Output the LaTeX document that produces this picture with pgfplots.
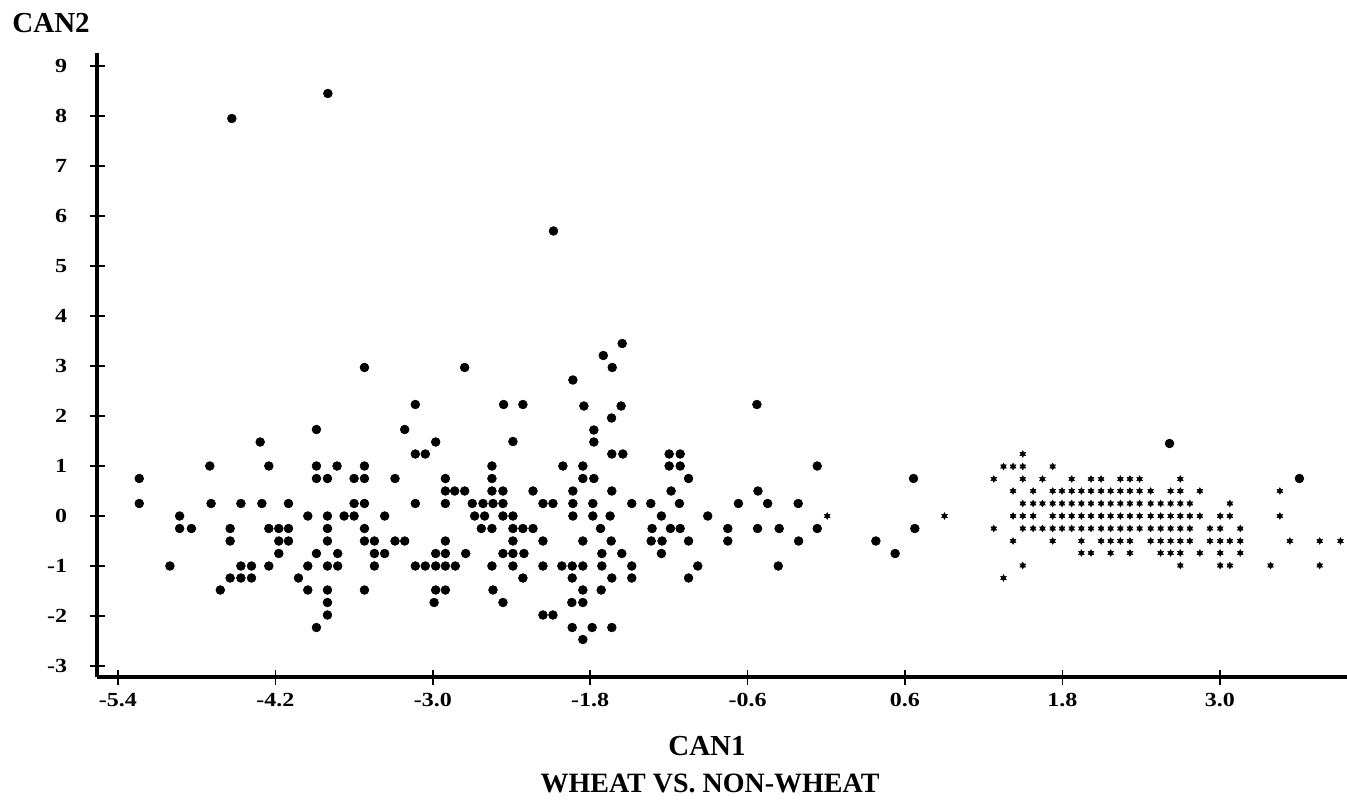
\documentclass[border=0pt]{standalone}
\usepackage{pgfplots}
\pgfplotsset{compat=1.18}
\usepackage{fontspec}
\setmainfont{Liberation Serif}
\newfontfamily\tickfont[FakeStretch=1.2]{Liberation Serif}

% filled six-pointed star used for the non-wheat points
\pgfdeclareplotmark{sixstar}{%
  \pgfpathmoveto{\pgfpointpolar{90}{\pgfplotmarksize}}%
  \pgfpathlineto{\pgfpointpolar{120}{0.55\pgfplotmarksize}}%
  \pgfpathlineto{\pgfpointpolar{150}{\pgfplotmarksize}}%
  \pgfpathlineto{\pgfpointpolar{180}{0.55\pgfplotmarksize}}%
  \pgfpathlineto{\pgfpointpolar{210}{\pgfplotmarksize}}%
  \pgfpathlineto{\pgfpointpolar{240}{0.55\pgfplotmarksize}}%
  \pgfpathlineto{\pgfpointpolar{270}{\pgfplotmarksize}}%
  \pgfpathlineto{\pgfpointpolar{300}{0.55\pgfplotmarksize}}%
  \pgfpathlineto{\pgfpointpolar{330}{\pgfplotmarksize}}%
  \pgfpathlineto{\pgfpointpolar{0}{0.55\pgfplotmarksize}}%
  \pgfpathlineto{\pgfpointpolar{30}{\pgfplotmarksize}}%
  \pgfpathlineto{\pgfpointpolar{60}{0.55\pgfplotmarksize}}%
  \pgfpathclose
  \pgfusepathqfillstroke
}

\newcommand{\labfont}{\fontsize{14.5}{16}\selectfont\bfseries}
\newcommand{\titfont}{\fontsize{14}{16}\selectfont\bfseries}

\begin{document}
\begin{tikzpicture}
\begin{axis}[
    scale only axis,
    width=625pt, height=312pt,
    xmin=-5.56, xmax=3.97,
    ymin=-3.22, ymax=9.26,
    axis x line=bottom, axis y line=left,
    axis line style={line width=2pt, -},
    xtick={-5.4,-4.2,-3.0,-1.8,-0.6,0.6,1.8,3.0},
    xticklabels={-5.4,-4.2,-3.0,-1.8,-0.6,0.6,1.8,3.0},
    ytick={-3,-2,-1,0,1,2,3,4,5,6,7,8,9},
    yticklabels={-3,-2,-1,0,1,2,3,4,5,6,7,8,9},
    tick align=center,
    major tick length=7.5pt,
    tick style={line width=0.8pt, black},
    tick label style={font=\tickfont\bfseries\fontsize{10}{11}\selectfont},
    xticklabel style={anchor=north, inner sep=0pt, yshift=-4pt},
    yticklabel style={anchor=east, inner sep=0pt, xshift=-11pt},
    clip=false,
]
% wheat
\addplot[only marks, mark=*, mark size=2.2pt, mark options={fill=black, draw=black, line width=0.3pt}] coordinates {
(-4.532,7.95) (-3.80,8.45) (-2.08,5.70)
(-5.238,0.75) (-5.238,0.25) (-5.004,-1) (-4.93,0) (-4.93,-0.25) (-4.84,-0.25)
(-4.70,1) (-4.69,0.25) (-4.62,-1.48) (-4.545,-0.25) (-4.545,-0.5) (-4.545,-1.24)
(-4.463,0.25) (-4.463,-1) (-4.463,-1.24) (-4.382,-1) (-4.382,-1.24) (-4.316,1.48)
(-4.303,0.25) (-4.25,1) (-4.25,-0.25) (-4.25,-1) (-4.174,-0.25) (-4.174,-0.5)
(-4.174,-0.75) (-4.10,0.25) (-4.10,-0.25) (-4.10,-0.5) (-4.024,-1.24)
(-3.953,0) (-3.953,-1) (-3.953,-1.48)
(-3.887,1.73) (-3.887,1) (-3.887,0.75) (-3.887,-0.75) (-3.887,-2.23)
(-3.803,0.75) (-3.803,0) (-3.803,-0.25) (-3.803,-0.5) (-3.803,-1) (-3.803,-1.48) (-3.803,-1.73) (-3.803,-1.98)
(-3.73,1) (-3.725,-0.75) (-3.725,-1) (-3.676,0) (-3.60,0.75) (-3.60,0.25) (-3.60,0)
(-3.521,2.97) (-3.521,1) (-3.521,0.75) (-3.521,0.25) (-3.521,-0.25) (-3.521,-0.5) (-3.521,-1.48)
(-3.445,-0.5) (-3.445,-0.75) (-3.445,-1) (-3.367,0) (-3.367,-0.75) (-3.288,0.75) (-3.288,-0.5)
(-3.214,1.73) (-3.214,-0.5) (-3.133,2.23) (-3.133,1.24) (-3.057,1.24) (-2.978,1.48)
(-3.133,0.25) (-3.133,-1) (-3.057,-1) (-2.978,-1) (-2.904,-1)
(-2.904,0.75) (-2.904,0.5) (-2.904,0.25) (-2.904,-0.5) (-2.978,-0.75) (-2.904,-0.75)
(-2.978,-1.48) (-2.904,-1.48) (-2.99,-1.73)
(-1.556,3.45) (-1.70,3.21) (-1.632,2.97) (-2.757,2.97) (-1.932,2.72)
(-2.46,2.23) (-2.313,2.23) (-1.848,2.2) (-1.564,2.2) (-1.637,1.96)
(-2.389,1.49) (-1.772,1.72) (-1.772,1.48)
(-1.635,1.24) (-1.551,1.24) (-1.198,1.24) (-1.114,1.24) (-1.198,1) (-1.114,1) (-1.05,0.75)
(-2.008,1) (-1.856,1) (-2.549,1)
(-2.549,0.75) (-1.856,0.75) (-1.772,0.75)
(-2.833,0.5) (-2.757,0.5) (-2.549,0.5) (-2.465,0.5) (-2.236,0.5) (-1.932,0.5) (-1.635,0.5) (-1.183,0.5)
(-2.699,0.25) (-2.617,0.25) (-2.541,0.25) (-2.465,0.25) (-2.16,0.25) (-2.084,0.25) (-1.932,0.25) (-1.78,0.25) (-1.483,0.25) (-1.338,0.25) (-1.12,0.25) (-0.67,0.25)
(-2.681,0) (-2.605,0) (-2.465,0) (-2.389,0) (-1.932,0) (-1.78,0) (-1.648,0) (-1.257,0) (-0.904,0)
(-2.63,-0.25) (-2.549,-0.25) (-2.389,-0.25) (-2.313,-0.25) (-2.236,-0.25) (-1.721,-0.25) (-1.328,-0.25) (-1.188,-0.25) (-1.114,-0.25) (-0.751,-0.25)
(-2.389,-0.5) (-2.16,-0.5) (-1.856,-0.5) (-1.64,-0.5) (-1.335,-0.5) (-1.252,-0.5) (-1.05,-0.5) (-0.751,-0.5)
(-2.749,-0.75) (-2.465,-0.75) (-2.389,-0.75) (-2.305,-0.75) (-1.711,-0.75) (-1.559,-0.75) (-1.257,-0.75)
(-2.828,-1) (-2.549,-1) (-2.389,-1) (-2.16,-1) (-2.016,-1) (-1.937,-1) (-1.856,-1) (-1.711,-1) (-1.483,-1) (-0.98,-1)
(-2.313,-1.24) (-1.937,-1.24) (-1.635,-1.24) (-1.483,-1.24) (-1.05,-1.24)
(-2.541,-1.48) (-1.856,-1.48) (-1.716,-1.48)
(-2.465,-1.73) (-1.94,-1.73) (-1.856,-1.73)
(-2.16,-1.98) (-2.084,-1.98)
(-1.937,-2.23) (-1.785,-2.23) (-1.635,-2.23)
(-1.856,-2.47)
(-0.529,2.23) (-0.521,0.5) (-0.447,0.25) (-0.524,-0.25) (-0.359,-0.25) (-0.366,-1)
(-0.214,0.25) (-0.211,-0.5) (-0.069,1) (-0.069,-0.25)
(0.378,-0.5) (0.525,-0.75) (0.665,0.75) (0.675,-0.25)
(2.617,1.45) (3.607,0.75)
};
% non-wheat
\addplot[only marks, mark=sixstar, mark size=1.7pt, mark options={fill=black, draw=black, line width=0.2pt}] coordinates {
(0.007,0) (0.901,0)
(1.498,1.24)
(1.351,0.99) (1.424,0.99) (1.498,0.99) (1.726,0.99)
(1.277,0.74) (1.498,0.74) (1.648,0.74) (1.871,0.74) (2.018,0.74) (2.095,0.74) (2.242,0.74) (2.315,0.74) (2.389,0.74) (2.699,0.74)
(1.424,0.5) (1.577,0.5) (1.726,0.5) (1.797,0.5) (1.871,0.5) (1.945,0.5) (2.018,0.5) (2.095,0.5) (2.168,0.5) (2.242,0.5) (2.315,0.5) (2.389,0.5) (2.473,0.5) (2.625,0.5) (2.699,0.5) (2.848,0.5) (3.458,0.5)
(1.498,0.25) (1.577,0.25) (1.648,0.25) (1.726,0.25) (1.797,0.25) (1.871,0.25) (1.945,0.25) (2.018,0.25) (2.095,0.25) (2.168,0.25) (2.242,0.25) (2.315,0.25) (2.389,0.25) (2.473,0.25) (2.549,0.25) (2.625,0.25) (2.699,0.25) (2.772,0.25) (3.077,0.25)
(1.424,0) (1.498,0) (1.577,0) (1.726,0) (1.797,0) (1.871,0) (1.945,0) (2.018,0) (2.095,0) (2.168,0) (2.242,0) (2.315,0) (2.389,0) (2.473,0) (2.549,0) (2.625,0) (2.699,0) (2.772,0) (2.848,0) (3.003,0) (3.077,0) (3.458,0)
(1.277,-0.25) (1.498,-0.25) (1.577,-0.25) (1.648,-0.25) (1.726,-0.25) (1.797,-0.25) (1.871,-0.25) (1.945,-0.25) (2.018,-0.25) (2.095,-0.25) (2.168,-0.25) (2.242,-0.25) (2.315,-0.25) (2.389,-0.25) (2.473,-0.25) (2.549,-0.25) (2.625,-0.25) (2.699,-0.25) (2.772,-0.25) (2.925,-0.25) (3.003,-0.25) (3.156,-0.25)
(1.424,-0.5) (1.726,-0.5) (1.945,-0.5) (2.095,-0.5) (2.168,-0.5) (2.242,-0.5) (2.315,-0.5) (2.473,-0.5) (2.549,-0.5) (2.625,-0.5) (2.699,-0.5) (2.772,-0.5) (2.925,-0.5) (3.003,-0.5) (3.077,-0.5) (3.156,-0.5) (3.534,-0.5) (3.762,-0.5) (3.92,-0.5)
(1.945,-0.74) (2.018,-0.74) (2.168,-0.74) (2.315,-0.74) (2.549,-0.74) (2.625,-0.74) (2.699,-0.74) (2.848,-0.74) (3.003,-0.74) (3.156,-0.74)
(1.498,-0.99) (2.699,-0.99) (3.003,-0.99) (3.077,-0.99) (3.387,-0.99) (3.762,-0.99)
(1.351,-1.24)
};
\coordinate (bl) at (rel axis cs:0,0);
\coordinate (tr) at (rel axis cs:1,1);
\node[anchor=base west, inner sep=0pt, font=\labfont] at ([shift={(-42.5pt,10pt)}]rel axis cs:0,1) {CAN2};
\node[anchor=base, inner sep=0pt, font=\labfont] at ([shift={(305pt,-39pt)}]rel axis cs:0,0) {CAN1};
\node[anchor=base, inner sep=0pt, font=\titfont] at ([shift={(306.5pt,-57.5pt)}]rel axis cs:0,0) {WHEAT VS. NON-WHEAT};
\end{axis}
\pgfresetboundingbox
\useasboundingbox ([shift={(-48.5pt,-63.5pt)}]bl) rectangle ([shift={(0pt,26.5pt)}]tr);
\end{tikzpicture}
\end{document}
